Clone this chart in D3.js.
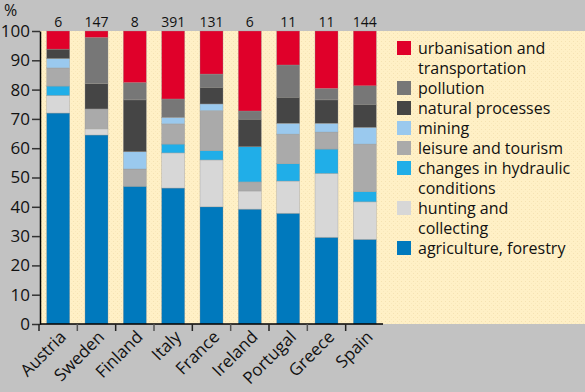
<!DOCTYPE html>
<html>
<head>
<meta charset="utf-8">
<script src="https://cdn.jsdelivr.net/npm/d3@7"></script>
<style>
  body { margin: 0; background: #c2c2c2; }
  svg { display: block; font-family: "Open Sans", "DejaVu Sans", sans-serif; }
</style>
</head>
<body>
<div id="chart"></div>
<script>
const countries = ['Austria', 'Sweden', 'Finland', 'Italy', 'France', 'Ireland', 'Portugal', 'Greece', 'Spain'];
const counts = [6, 147, 8, 391, 131, 6, 11, 11, 144];
const causes = ['agriculture', 'hunting', 'hydraulic', 'leisure', 'mining', 'natural', 'pollution', 'urban'];
// Ireland is stacked with leisure below hydraulic in the original
const irelandOrder = ['agriculture', 'hunting', 'leisure', 'hydraulic', 'mining', 'natural', 'pollution', 'urban'];

// shares in %, one array per cause, in country order
const agriculture = [72.0, 64.5, 47.0, 46.4, 40.0, 39.2, 37.8, 29.6, 28.9];
const hunting     = [6.0, 2.1, 0, 12.0, 16.0, 6.2, 11.0, 21.8, 12.8];
const hydraulic   = [3.2, 0, 0, 3.0, 3.2, 12.0, 5.9, 8.3, 3.5];
const leisure     = [6.2, 6.8, 5.9, 6.9, 13.6, 3.1, 10.1, 5.8, 16.2];
const mining      = [3.2, 0, 5.9, 2.2, 2.3, 0, 3.7, 3.0, 5.7];
const natural     = [3.2, 8.7, 17.7, 0, 5.7, 9.4, 8.9, 8.0, 7.9];
const pollution   = [0, 15.7, 5.9, 6.3, 4.5, 2.8, 11.0, 3.9, 6.3];
const urban       = [6.2, 2.2, 17.6, 23.2, 14.7, 27.3, 11.6, 19.6, 18.7];

const legendItems = [
    {key: 'urban', lines: ['urbanisation and', 'transportation']},
    {key: 'pollution', lines: ['pollution']},
    {key: 'natural', lines: ['natural processes']},
    {key: 'mining', lines: ['mining']},
    {key: 'leisure', lines: ['leisure and tourism']},
    {key: 'hydraulic', lines: ['changes in hydraulic', 'conditions']},
    {key: 'hunting', lines: ['hunting and', 'collecting']},
    {key: 'agriculture', lines: ['agriculture, forestry']}
];

const colors = d3.scaleOrdinal()
    .domain(causes)
    .range(['#0079bd', '#d7d7d7', '#20aee8', '#aaaaaa', '#9ac9ee', '#454545', '#777777', '#e0002a']);

const width = 585;
const height = 392;
const plot = {left: 40, top: 31, bottom: 324, right: 585, axisEnd: 383};

const series = {agriculture, hunting, hydraulic, leisure, mining, natural, pollution, urban};

// build segments per country, stacking bottom-up
const segments = [];
countries.forEach((c, i) => {
    const order = c === 'Ireland' ? irelandOrder : causes;
    let base = 0;
    order.forEach(k => {
        const v = series[k][i];
        if (v > 0) segments.push({country: c, key: k, y0: base, y1: base + v});
        base += v;
    });
});

const x = d3.scaleBand()
    .domain(countries)
    .range([39, 384])
    .paddingInner(0.4)
    .paddingOuter(0.2);

const y = d3.scaleLinear()
    .domain([0, 100])
    .range([plot.bottom, plot.top]);

const svg = d3.select('#chart')
    .append('svg')
    .attr('width', width)
    .attr('height', height);

// dotted cream paper
const defs = svg.append('defs');
const pat = defs.append('pattern')
    .attr('id', 'dots')
    .attr('width', 4)
    .attr('height', 4)
    .attr('patternUnits', 'userSpaceOnUse');
pat.append('rect').attr('width', 4).attr('height', 4).attr('fill', '#fff0c6');
pat.append('rect').attr('x', 1).attr('y', 1).attr('width', 1).attr('height', 1).attr('fill', '#f5e2b2');
pat.append('rect').attr('x', 3).attr('y', 3).attr('width', 1).attr('height', 1).attr('fill', '#f8e8bc');

svg.append('rect')
    .attr('x', plot.left)
    .attr('y', plot.top)
    .attr('width', plot.right - plot.left)
    .attr('height', plot.bottom - plot.top)
    .attr('fill', 'url(#dots)');

// bars
svg.append('g')
    .selectAll('rect')
    .data(segments)
    .join('rect')
        .attr('x', d => x(d.country))
        .attr('y', d => y(d.y1))
        .attr('width', x.bandwidth())
        .attr('height', d => y(d.y0) - y(d.y1))
        .attr('fill', d => colors(d.key))
        .attr('stroke', 'rgba(150,150,150,0.55)')
        .attr('stroke-width', 0.6);

// counts on top
svg.append('g')
    .selectAll('text')
    .data(countries)
    .join('text')
        .attr('x', d => x(d) + x.bandwidth() / 2)
        .attr('y', 27)
        .attr('text-anchor', 'middle')
        .attr('font-size', 14)
        .attr('fill', '#111')
        .text((d, i) => counts[i]);

// y axis
const yAxis = svg.append('g')
    .attr('transform', `translate(${plot.left},0)`)
    .call(d3.axisLeft(y).tickValues(d3.range(0, 101, 10)).tickSize(8).tickSizeOuter(0).tickPadding(2));
yAxis.select('.domain').attr('stroke', '#000').attr('stroke-width', 1.5);
yAxis.selectAll('.tick line').attr('stroke', '#333').attr('stroke-width', 1.5);
yAxis.selectAll('.tick text')
    .attr('font-size', 17)
    .attr('font-family', '"Open Sans", "DejaVu Sans", sans-serif')
    .attr('fill', '#111');

svg.append('text')
    .attr('x', 4)
    .attr('y', 16)
    .attr('font-size', 16)
    .attr('fill', '#111')
    .text('%');

// x axis line and ticks at band edges
svg.append('line')
    .attr('x1', plot.left)
    .attr('x2', plot.axisEnd)
    .attr('y1', plot.bottom)
    .attr('y2', plot.bottom)
    .attr('stroke', '#000')
    .attr('stroke-width', 1.5);

svg.append('g')
    .selectAll('line')
    .data(countries)
    .join('line')
        .attr('x1', d => x(d) - x.step() * 0.2)
        .attr('x2', d => x(d) - x.step() * 0.2)
        .attr('y1', plot.bottom)
        .attr('y2', plot.bottom + 7)
        .attr('stroke', (d, i) => i % 2 ? '#555' : '#222')
        .attr('stroke-width', 1.5);

svg.append('g')
    .selectAll('text')
    .data(countries)
    .join('text')
        .attr('transform', d => `translate(${x(d) + x.bandwidth() / 2 + 9},${plot.bottom + 14}) rotate(-45)`)
        .attr('text-anchor', 'end')
        .attr('font-size', 17)
        .attr('fill', '#111')
        .text(d => d);

// legend
const legend = svg.append('g');
let line = 0;
legendItems.forEach(item => {
    const top = 41 + line * 20;
    legend.append('rect')
        .attr('x', 397)
        .attr('y', top)
        .attr('width', 14)
        .attr('height', 14)
        .attr('fill', colors(item.key));
    item.lines.forEach((t, j) => {
        legend.append('text')
            .attr('x', 418)
            .attr('y', top + 13 + j * 20)
            .attr('font-size', 16)
            .attr('fill', '#111')
            .text(t);
    });
    line += item.lines.length;
});
</script>
</body>
</html>
